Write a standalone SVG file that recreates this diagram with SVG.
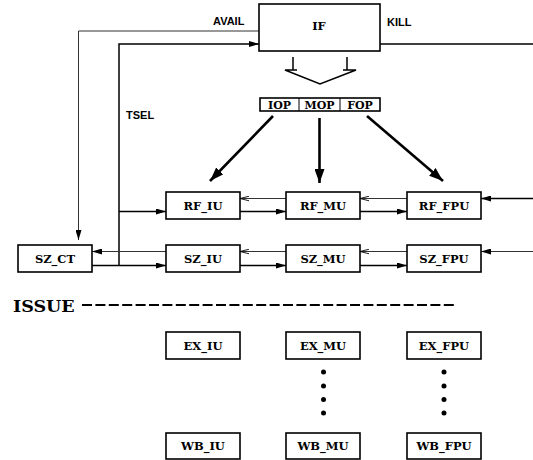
<svg xmlns="http://www.w3.org/2000/svg" width="533" height="460" viewBox="0 0 533 460">
<style>
.box{fill:#fff;stroke:#000;stroke-width:1.6}
.lbl{font-family:"DejaVu Serif","Liberation Serif",serif;font-weight:bold;font-size:11.5px;text-anchor:middle}
.sans{font-family:"Liberation Sans",Arial,sans-serif;font-weight:bold;font-size:11px}
.thin{fill:none;stroke:#333;stroke-width:1}
.med{fill:none;stroke:#000;stroke-width:1.5}
.thick{fill:none;stroke:#000;stroke-width:2.6}
</style>
<defs>
<marker id="fa" viewBox="0 0 10 6" refX="10" refY="3" markerWidth="10" markerHeight="6" markerUnits="userSpaceOnUse" orient="auto"><path d="M0,0 L10,3 L0,6 Z" fill="#000"/></marker>
<marker id="oa" viewBox="0 0 10 6" refX="10" refY="3" markerWidth="9" markerHeight="6" markerUnits="userSpaceOnUse" orient="auto"><path d="M0,0.5 L10,3 L0,5.5" fill="none" stroke="#000" stroke-width="1"/></marker>
<marker id="big" viewBox="0 0 14 10" refX="14" refY="5" markerWidth="14" markerHeight="10" markerUnits="userSpaceOnUse" orient="auto"><path d="M0,0 L14,5 L0,10 Z" fill="#000"/></marker>
</defs>
<g id="connectors">
<polyline class="thin" points="259,31 78.5,31 78.5,240" marker-end="url(#fa)"/>
<polyline class="med" points="119,265.5 119,44 259,44" marker-end="url(#fa)"/>
<line class="med" x1="119" y1="211.5" x2="166" y2="211.5" marker-end="url(#fa)"/>
<line class="med" x1="92" y1="265.5" x2="166" y2="265.5" marker-end="url(#fa)"/>
<line class="thin" x1="166" y1="251.5" x2="92" y2="251.5" marker-end="url(#fa)"/>
<line class="med" x1="380" y1="44" x2="533" y2="44"/>
<line class="thin" x1="286" y1="198.5" x2="240" y2="198.5" marker-end="url(#oa)"/>
<line class="med" x1="240" y1="211.5" x2="286" y2="211.5" marker-end="url(#fa)"/>
<line class="thin" x1="407" y1="198.5" x2="360" y2="198.5" marker-end="url(#oa)"/>
<line class="med" x1="360" y1="211.5" x2="407" y2="211.5" marker-end="url(#fa)"/>
<line class="med" x1="533" y1="198.5" x2="481" y2="198.5" marker-end="url(#fa)"/>
<line class="thin" x1="286" y1="251.5" x2="240" y2="251.5" marker-end="url(#oa)"/>
<line class="med" x1="240" y1="265.5" x2="286" y2="265.5" marker-end="url(#fa)"/>
<line class="thin" x1="407" y1="251.5" x2="360" y2="251.5" marker-end="url(#oa)"/>
<line class="med" x1="360" y1="265.5" x2="407" y2="265.5" marker-end="url(#fa)"/>
<line class="thin" x1="533" y1="251.5" x2="481" y2="251.5" marker-end="url(#fa)"/>
<path class="med" d="M293,57 V70 M347,57 V70 M297,70 H285 L320,84 L356,70 H343"/>
<line class="thick" x1="273" y1="116" x2="210" y2="181" marker-end="url(#big)"/>
<line class="thick" x1="319.5" y1="118" x2="319.5" y2="183" marker-end="url(#big)"/>
<line class="thick" x1="367" y1="116" x2="443" y2="181" marker-end="url(#big)"/>
<line x1="82" y1="305" x2="457" y2="305" stroke="#000" stroke-width="2" stroke-dasharray="10,3.4"/>
</g>
<g id="IF"><rect class="box" x="259" y="4" width="121" height="47"/><text class="lbl" x="319" y="30">IF</text></g>
<g id="OPS">
<rect class="box" x="260" y="98" width="120" height="13" stroke-width="1.2"/>
<line x1="299" y1="98" x2="299" y2="111" stroke="#000" stroke-width="1"/>
<line x1="340" y1="98" x2="340" y2="111" stroke="#000" stroke-width="1"/>
<text class="lbl" x="279.5" y="109" style="font-size:11px">IOP</text>
<text class="lbl" x="319.5" y="109" style="font-size:11px">MOP</text>
<text class="lbl" x="360" y="109" style="font-size:11px">FOP</text>
</g>
<g id="SZ_CT"><rect class="box" x="18" y="245" width="74" height="27"/><text class="lbl" x="55" y="262.5">SZ_CT</text></g>
<g id="RF_IU"><rect class="box" x="166" y="192" width="74" height="27"/><text class="lbl" x="203" y="209.5">RF_IU</text></g>
<g id="RF_MU"><rect class="box" x="286" y="192" width="74" height="27"/><text class="lbl" x="323" y="209.5">RF_MU</text></g>
<g id="RF_FPU"><rect class="box" x="407" y="192" width="74" height="27"/><text class="lbl" x="444" y="209.5">RF_FPU</text></g>
<g id="SZ_IU"><rect class="box" x="166" y="245" width="74" height="27"/><text class="lbl" x="203" y="262.5">SZ_IU</text></g>
<g id="SZ_MU"><rect class="box" x="286" y="245" width="74" height="27"/><text class="lbl" x="323" y="262.5">SZ_MU</text></g>
<g id="SZ_FPU"><rect class="box" x="407" y="245" width="74" height="27"/><text class="lbl" x="444" y="262.5">SZ_FPU</text></g>
<g id="EX_IU"><rect class="box" x="166" y="332" width="74" height="27"/><text class="lbl" x="203" y="349.5">EX_IU</text></g>
<g id="EX_MU"><rect class="box" x="286" y="332" width="74" height="27"/><text class="lbl" x="323" y="349.5">EX_MU</text></g>
<g id="EX_FPU"><rect class="box" x="407" y="332" width="74" height="27"/><text class="lbl" x="444" y="349.5">EX_FPU</text></g>
<g id="WB_IU"><rect class="box" x="166" y="433" width="74" height="26"/><text class="lbl" x="203" y="450">WB_IU</text></g>
<g id="WB_MU"><rect class="box" x="286" y="433" width="74" height="26"/><text class="lbl" x="323" y="450">WB_MU</text></g>
<g id="WB_FPU"><rect class="box" x="407" y="433" width="74" height="26"/><text class="lbl" x="444" y="450">WB_FPU</text></g>
<g id="dots" fill="#000">
<circle cx="323.5" cy="372" r="2.5"/><circle cx="323.5" cy="386" r="2.5"/><circle cx="323.5" cy="399.5" r="2.5"/><circle cx="323.5" cy="413" r="2.5"/>
<circle cx="444" cy="372" r="2.5"/><circle cx="444" cy="386" r="2.5"/><circle cx="444" cy="399.5" r="2.5"/><circle cx="444" cy="413" r="2.5"/>
</g>
<g id="labels">
<text class="sans" x="213" y="25">AVAIL</text>
<text class="sans" x="387" y="25.5">KILL</text>
<text class="sans" x="126" y="119">TSEL</text>
<text x="13" y="311.5" style="font-family:'DejaVu Serif','Liberation Serif',serif;font-weight:bold;font-size:17.5px">ISSUE</text>
</g>
</svg>
